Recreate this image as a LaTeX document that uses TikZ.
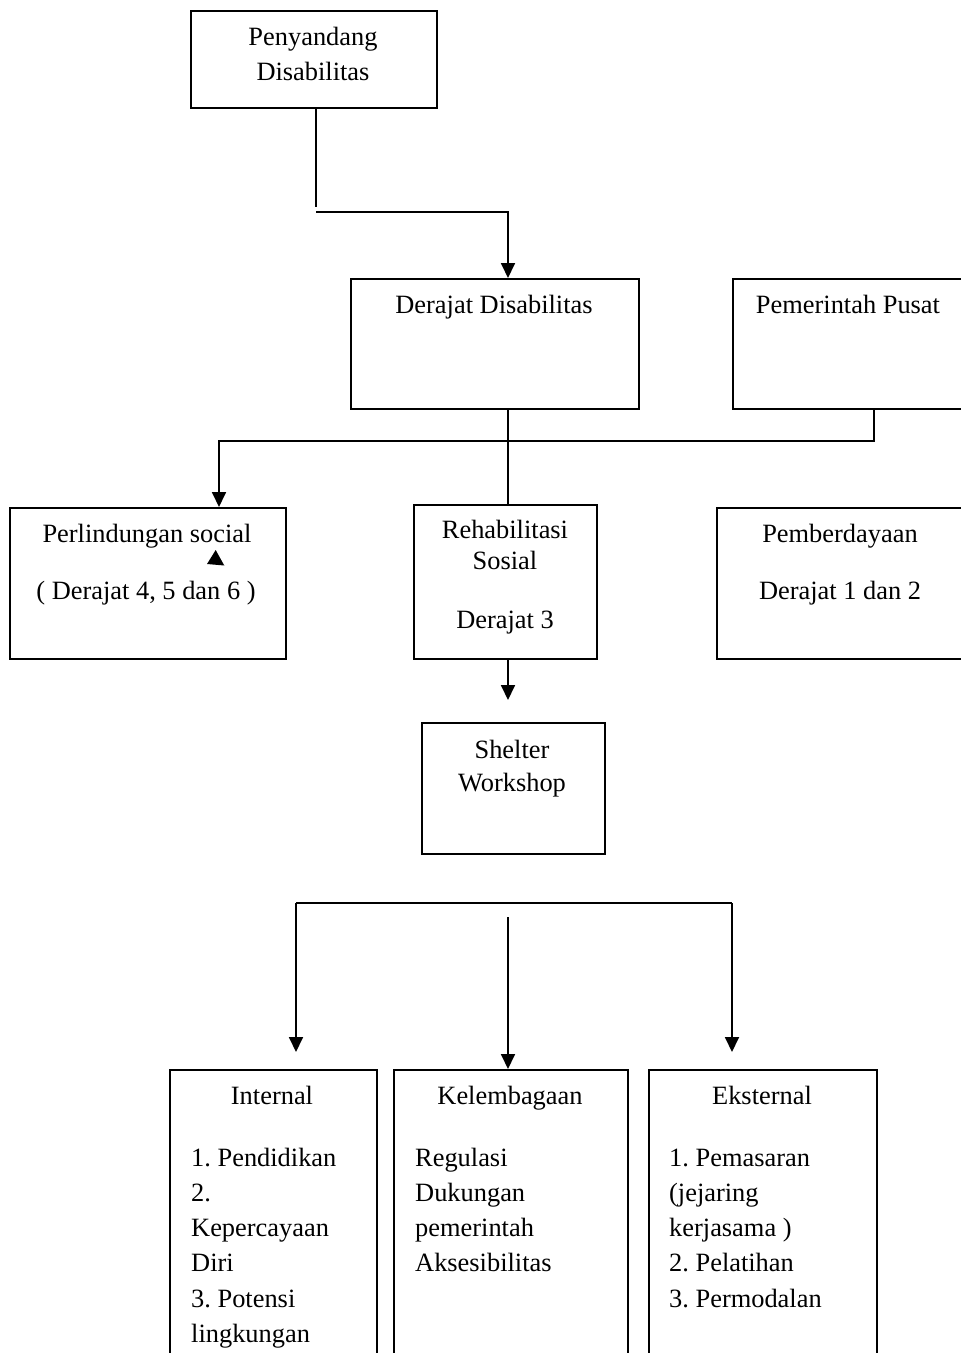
\documentclass[tikz,border=0pt]{standalone}
\usepackage{fontspec}
\setmainfont{Liberation Serif}
\usetikzlibrary{arrows.meta}
\frenchspacing
\begin{document}
\begin{tikzpicture}[x=1pt,y=-1pt,
  box/.style={draw, line width=1.8pt, rectangle, anchor=north west, inner sep=0pt},
  txt/.style={inner sep=0pt, anchor=base, font=\fontsize{26.4}{35.3}\selectfont},
  itm/.style={txt, anchor=base west},
  link/.style={line width=1.8pt},
  arr/.style={link, -{Triangle[length=15pt,width=14pt]}}]
\useasboundingbox (0,0) rectangle (961,1353);
\clip (0,0) rectangle (961,1353);

% boxes
\node[box, minimum width=246pt, minimum height=97pt]  (pd) at (190,10) {};
\node[box, minimum width=288pt, minimum height=130pt] (dd) at (350,278) {};
\node[box, minimum width=232pt, minimum height=130pt] (pp) at (732,278) {};
\node[box, minimum width=276pt, minimum height=151pt] (pl) at (9,507) {};
\node[box, minimum width=183pt, minimum height=154pt] (rs) at (413,504) {};
\node[box, minimum width=248pt, minimum height=151pt] (pb) at (716,507) {};
\node[box, minimum width=183pt, minimum height=131pt] (sw) at (421,722) {};
\node[box, minimum width=207pt, minimum height=320pt] (in) at (169,1069) {};
\node[box, minimum width=234pt, minimum height=320pt] (kl) at (393,1069) {};
\node[box, minimum width=228pt, minimum height=320pt] (ek) at (648,1069) {};

% labels
\node[txt] (pd1) at (313,45) {Penyandang};
\node[txt] (pd2) at (313,80) {Disabilitas};
\node[txt] (dd1) at (494,313) {Derajat Disabilitas};
\node[txt] (pp1) at (848,313) {Pemerintah Pusat};
\node[txt] (pl1) at (147,542) {Perlindungan social};
\node[txt] (pl2) at (146,599) {( Derajat 4, 5 dan 6 )};
\node[txt] (rs1) at (505,538) {Rehabilitasi};
\node[txt] (rs2) at (505,569) {Sosial};
\node[txt] (rs3) at (505,628) {Derajat 3};
\node[txt] (pb1) at (840,542) {Pemberdayaan};
\node[txt] (pb2) at (840,599) {Derajat 1 dan 2};
\node[txt] (sw1) at (512,758) {Shelter};
\node[txt] (sw2) at (512,791) {Workshop};
\node[txt] (in0) at (272,1104) {Internal};
\node[txt] (kl0) at (510,1104) {Kelembagaan};
\node[txt] (ek0) at (762,1104) {Eksternal};
\foreach \t [count=\i] in {{1. Pendidikan}, {2.}, {Kepercayaan}, {Diri}, {3. Potensi}, {lingkungan}}
  \node[itm] (in\i) at (191,{1166+35.3*(\i-1)}) {\t};
\foreach \t [count=\i] in {{Regulasi}, {Dukungan}, {pemerintah}, {Aksesibilitas}}
  \node[itm] (kl\i) at (415,{1166+35.3*(\i-1)}) {\t};
\foreach \t [count=\i] in {{1. Pemasaran}, {(jejaring}, {kerjasama )}, {2. Pelatihan}, {3. Permodalan}}
  \node[itm] (ek\i) at (669,{1166+35.3*(\i-1)}) {\t};

% connectors, top part
\coordinate (a1) at (316,207);
\coordinate (a2) at (316,212);
\coordinate (spine) at (508,212);
\draw[link] (pd.south -| a1) -- (a1);
\draw[arr] (a2) -- (spine) -- (dd.north -| spine);
\draw[link] (dd.south -| spine) -- (rs.north -| spine);
\coordinate (k1) at (874,441);
\coordinate (k2) at (219,441);
\draw[arr] (pp.south -| k1) -- (k1) -- (k2) -- (pl.north -| k2);
\coordinate (a3) at (508,700);
\draw[arr] (rs.south -| a3) -- (a3);

% stray arrow tip inside the protection box
\fill (215.7,550) -- (207,564) -- (224.3,565.5) -- cycle;

% connectors, bottom part
\coordinate (b1) at (296,903);
\coordinate (b2) at (732,903);
\coordinate (b3) at (508,917);
\coordinate (t1) at (296,1052);
\coordinate (t2) at (732,1052);
\draw[link] (b1) -- (b2);
\draw[arr] (b1) -- (t1);
\draw[arr] (b2) -- (t2);
\draw[arr] (b3) -- (kl.north -| b3);
\end{tikzpicture}
\end{document}
